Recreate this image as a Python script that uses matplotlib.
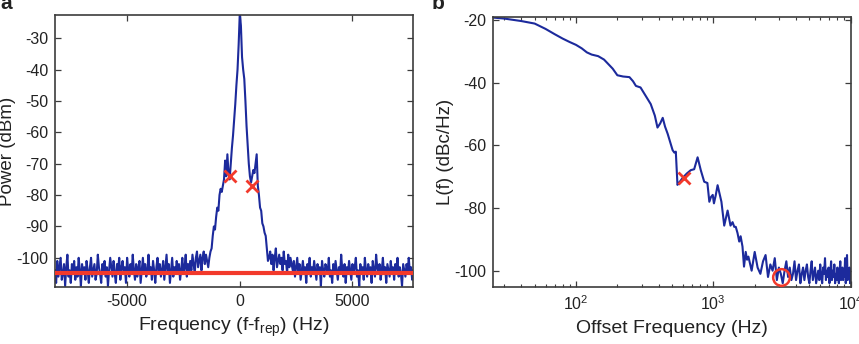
import numpy as np
import matplotlib
matplotlib.use("Agg")
import matplotlib.pyplot as plt
from matplotlib.ticker import LogLocator, NullFormatter

# ---------------- data: panel a ----------------
freq_start_hz = -8200
freq_step_hz = 50
power_dbm = [
    # floor (-8200 .. -2250)
    -104, -108, -101, -106, -103, -100, -107, -105, -102, -109,
    -103, -99, -106, -104, -108, -102, -105, -101, -107, -103,
    -106, -100, -104, -109, -102, -105, -103, -107, -101, -104,
    -108, -103, -100, -106, -104, -102, -107, -105, -99, -103,
    -105, -108, -102, -104, -101, -106, -103, -109, -104, -100,
    -103, -106, -101, -105, -108, -102, -104, -100, -107, -103,
    -101, -105, -103, -108, -100, -104, -106, -102, -105, -99,
    -104, -107, -102, -106, -103, -101, -108, -104, -100, -105,
    -102, -106, -104, -99, -105, -103, -107, -101, -104, -108,
    -103, -100, -105, -102, -106, -104, -101, -107, -103, -99,
    -105, -102, -108, -104, -100, -106, -103, -105, -101, -104,
    -102, -107, -104, -100, -105, -103, -99, -106, -102, -104,
    # elevated floor (-2200 .. -1250)
    -101, -104, -99, -102, -105, -100, -98, -103, -101, -99,
    -104, -100, -98, -102, -99, -101, -103, -100, -98, -97,
    # carrier (-1200 .. 1300)
    -93, -90, -91, -87, -84, -85, -80, -78, -79, -77,
    -75, -69, -74, -67, -73, -75, -70, -65, -61, -56,
    -51, -45, -40, -32, -22, -26, -36, -40, -43, -50,
    -58, -64, -70, -74, -76, -74, -72, -73, -70, -67,
    -77, -80, -84, -85, -89, -90, -92, -93, -97, -101,
    -100,
    # floor (1350 .. 7700)
    -98, -102, -99, -104, -100, -97, -103, -101, -99, -102,
    -100, -104, -98, -102, -101, -105, -99, -103, -100, -102,
    -104, -101, -106, -103, -100, -105, -102, -107, -104, -101,
    -105, -103, -108, -102, -104, -100, -106, -103, -105, -101,
    -104, -107, -102, -105, -103, -109, -101, -104, -106, -102,
    -103, -105, -100, -106, -104, -108, -102, -105, -101, -104,
    -107, -103, -105, -99, -104, -106, -102, -108, -103, -105,
    -101, -104, -107, -102, -105, -103, -100, -106, -104, -109,
    -102, -105, -103, -107, -100, -104, -106, -102, -105, -103,
    -108, -101, -104, -106, -99, -103, -105, -102, -107, -104,
    -100, -105, -103, -108, -102, -104, -106, -101, -105, -103,
    -107, -102, -104, -100, -106, -103, -105, -109, -102, -104,
    -106, -102, -104, -100, -105, -103, -107, -104,
]
noise_floor_dbm = -104.8
cross_a_hz = [-450, 520]
cross_a_dbm = [-74, -77]

# ---------------- data: panel b ----------------
offset_low_hz = [25, 30, 40, 50, 60, 70, 80, 90, 100, 110, 120, 130, 145, 160,
                 170, 185, 200, 220, 245, 260, 273, 295, 320, 350, 375, 392,
                 410, 428, 445, 465, 485, 505, 520, 533, 548, 565, 600, 640,
                 685, 725, 768, 810, 858, 905, 935, 960, 990, 1010, 1040,
                 1074, 1110, 1145, 1200, 1270, 1333, 1380, 1420, 1456, 1500,
                 1543, 1580, 1630, 1672, 1720, 1760]
lf_low_dbc = [-19.2, -19.5, -20.3, -21.1, -22.8, -24.5, -25.9, -27.0, -27.9,
              -29.0, -30.3, -31.0, -31.5, -32.6, -33.8, -35.5, -37.6, -38.0,
              -38.2, -39.5, -41.0, -41.5, -44.0, -46.8, -50.5, -54.3, -53.0,
              -51.2, -54.0, -56.3, -59.0, -61.5, -62.3, -62.0, -72.6, -71.8,
              -70.3, -69.0, -67.9, -67.6, -63.8, -67.9, -71.6, -72.0, -78.0,
              -76.5, -75.8, -78.5, -76.0, -72.7, -75.4, -78.0, -85.6, -80.8,
              -85.6, -84.5, -86.0, -86.0, -88.0, -90.7, -89.0, -92.3, -98.7,
              -94.0, -96.5]
offset_high_start_hz = 1800
offset_high_step_hz = 100
lf_high_dbc = [
    -95.5, -100, -94, -99, -101, -97, -95, -102, -98, -100,
    -96, -103, -99, -101, -104, -100, -97, -102, -99, -103,
    -101, -97, -103, -100, -98, -104, -101, -99, -103, -100,
    -98, -102, -104, -100, -97, -103, -101, -99, -104, -102,
    -100, -103, -98, -102, -104, -99, -101, -96, -103, -100,
    -102, -99, -104, -101, -97, -103, -100, -102, -98, -104,
    -101, -103, -99, -102, -104, -100, -97, -103, -101, -99,
    -103, -100, -102, -96, -104, -101, -95, -103, -100, -102,
    -99, -104, -101,
]
cross_b_hz = [613]
cross_b_dbc = [-70.3]
circle_b_hz = [3130]
circle_b_dbc = [-101.9]

# ---------------- style ----------------
plt.rcParams['font.family'] = ['Liberation Sans', 'DejaVu Sans']
plt.rcParams['axes.unicode_minus'] = False
plt.rcParams['mathtext.fontset'] = 'custom'
plt.rcParams['mathtext.rm'] = 'Liberation Sans'
plt.rcParams['mathtext.it'] = 'Liberation Sans:italic'
plt.rcParams['mathtext.bf'] = 'Liberation Sans:bold'

BLUE = '#1c2a9c'
RED = '#f2392b'
FRAME = '#3c3c3c'
TXT = '#222222'

fig = plt.figure(figsize=(8.59, 3.44), dpi=100)
axa = fig.add_axes([55 / 859, 1 - 287.3 / 344, 358.3 / 859, 272.3 / 344])
axb = fig.add_axes([493.3 / 859, 1 - 287.3 / 344, 357.4 / 859, 270 / 344])


def style(ax):
    for s in ax.spines.values():
        s.set_color(FRAME)
        s.set_linewidth(1.2)
    ax.tick_params(which='both', direction='in', top=True, right=True,
                   colors=FRAME, labelcolor=TXT, labelsize=11.5)
    ax.tick_params(which='major', length=4, width=0.9, pad=5)
    ax.tick_params(which='minor', length=2.5, width=0.8)


# panel a
freq_hz = freq_start_hz + freq_step_hz * np.arange(len(power_dbm))
axa.plot(freq_hz, power_dbm, color=BLUE, lw=1.5, zorder=2)
axa.axhline(noise_floor_dbm, color=RED, lw=3.0, zorder=3)
axa.plot(cross_a_hz, cross_a_dbm, ls='none', marker='x', ms=9, mew=2,
         color=RED, zorder=4)
axa.set_xlim(-8200, 7700)
axa.set_ylim(-109.4, -22.6)
axa.set_xticks([-5000, 0, 5000])
axa.set_yticks(np.arange(-100, -29, 10))
style(axa)
axa.set_xlabel('Frequency (f-f$_{\\rm rep}$) (Hz)', fontsize=14, color=TXT,
               labelpad=5)
axa.set_ylabel('Power (dBm)', fontsize=13.5, color=TXT)
axa.yaxis.set_label_coords(-0.11, 0.5)

# panel b
offset_high_hz = offset_high_start_hz + offset_high_step_hz * np.arange(len(lf_high_dbc))
offset_hz = np.concatenate([offset_low_hz, offset_high_hz])
lf_dbc = np.concatenate([lf_low_dbc, lf_high_dbc])
axb.plot(offset_hz, lf_dbc, color=BLUE, lw=1.5, zorder=2)
axb.plot(cross_b_hz, cross_b_dbc, ls='none', marker='x', ms=9, mew=2,
         color=RED, zorder=4)
axb.plot(circle_b_hz, circle_b_dbc, ls='none', marker='o', ms=12, mew=1.8,
         mfc='none', mec=RED, zorder=4)
axb.set_xscale('log')
axb.set_xlim(25, 1e4)
axb.set_ylim(-105.3, -19.1)
axb.set_yticks([-100, -80, -60, -40, -20])
axb.xaxis.set_minor_locator(LogLocator(base=10, subs=np.arange(2, 10), numticks=20))
axb.xaxis.set_minor_formatter(NullFormatter())
style(axb)
axb.set_xlabel('Offset Frequency (Hz)', fontsize=14, color=TXT, labelpad=5)
axb.set_ylabel('L(f) (dBc/Hz)', fontsize=13.5, color=TXT)
axb.yaxis.set_label_coords(-0.11, 0.5)

# panel letters
fig.text(0.0, 1 - 9 / 344, 'a', fontsize=15, fontweight='bold', color=TXT,
         ha='left', va='baseline')
fig.text(432 / 859, 1 - 9 / 344, 'b', fontsize=15, fontweight='bold', color=TXT,
         ha='left', va='baseline')

fig.savefig('out.png', dpi=100)
